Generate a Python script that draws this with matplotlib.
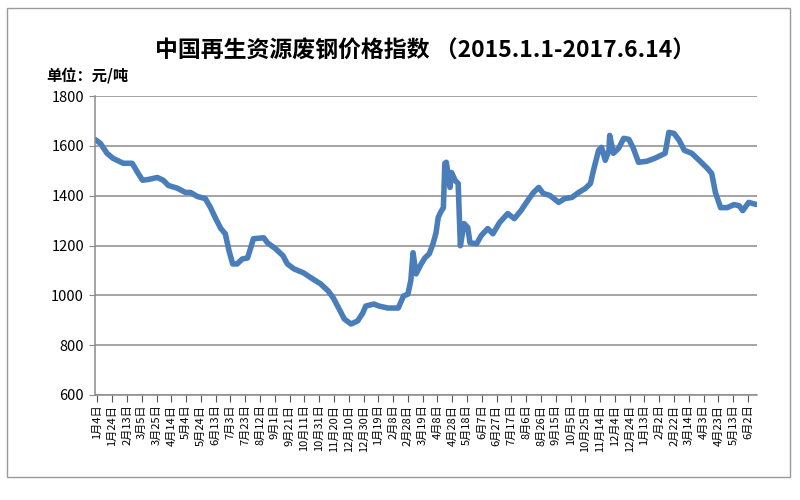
import pandas as pd
import matplotlib
matplotlib.use("Agg")
import matplotlib.pyplot as plt
from matplotlib.patches import Rectangle

plt.rcParams['font.family'] = ['Noto Sans CJK SC', 'DejaVu Sans']

title = "中国再生资源废钢价格指数 （2015.1.1-2017.6.14）"
unit_label = "单位：元/吨"
start_date = "2015-01-01"

# days since 2015-01-01
day_offsets = [0, 7, 16, 24, 38, 50, 54, 58, 64, 72, 84, 92, 99, 111, 122, 129,
               138, 149, 156, 163, 170, 176, 181, 186, 192, 199, 206, 210, 214,
               228, 233, 244, 254, 260, 269, 282, 292, 305, 315, 322, 330, 337,
               346, 355, 362, 366, 377, 384, 396, 410, 417, 423, 427, 430, 434,
               441, 446, 452, 457, 461, 464, 467, 471, 473, 475, 480, 482, 487,
               491, 494, 499, 504, 507, 516, 522, 531, 538, 547, 558, 567, 576,
               585, 593, 600, 606, 615, 627, 635, 645, 654, 663, 670, 674, 681,
               685, 690, 695, 696, 701, 708, 715, 722, 728, 735, 746, 757, 771,
               776, 783, 790, 797, 807, 817, 828, 834, 839, 846, 855, 864, 871,
               876, 884, 890, 894]
index_values = [1625, 1610, 1570, 1550, 1530, 1530, 1510, 1490, 1462, 1465, 1473,
                1462, 1441, 1430, 1413, 1413, 1397, 1388, 1352, 1308, 1268, 1247,
                1179, 1126, 1126, 1146, 1150, 1187, 1227, 1231, 1211, 1187, 1159,
                1126, 1106, 1090, 1070, 1046, 1018, 990, 945, 905, 885, 897, 929,
                957, 965, 957, 949, 949, 997, 1005, 1060, 1171, 1086, 1126, 1150,
                1167, 1207, 1250, 1312, 1332, 1352, 1530, 1534, 1433, 1493, 1461,
                1449, 1199, 1288, 1272, 1211, 1207, 1239, 1268, 1247, 1292, 1328,
                1308, 1340, 1380, 1413, 1433, 1409, 1401, 1373, 1388, 1393, 1413,
                1429, 1449, 1501, 1582, 1594, 1542, 1582, 1642, 1570, 1590, 1630,
                1626, 1590, 1534, 1538, 1550, 1570, 1654, 1650, 1622, 1582, 1570,
                1542, 1510, 1489, 1413, 1352, 1352, 1364, 1360, 1340, 1373, 1368,
                1365]

tick_dates = pd.date_range("2015-01-04", "2017-06-14", freq="20D")
tick_labels = [f"{d.month}月{d.day}日" for d in tick_dates]

dates = pd.Timestamp(start_date) + pd.to_timedelta(day_offsets, unit="D")

fig = plt.figure(figsize=(8, 5), dpi=100)
ax = fig.add_axes([0.119, 0.21, 0.827, 0.598])

ax.plot(dates, index_values, color="#4a7ebb", linewidth=4.0,
        solid_joinstyle="round", solid_capstyle="round")

ax.set_ylim(600, 1800)
ax.set_yticks(range(600, 1801, 200))
ax.set_xlim(pd.Timestamp(start_date), pd.Timestamp("2017-06-14"))
ax.set_xticks(tick_dates)
ax.set_xticklabels(tick_labels, rotation=90, fontsize=8)

ax.yaxis.grid(True, color="#8c8c8c", linewidth=1.1)
ax.set_axisbelow(True)
for side in ["top", "right"]:
    ax.spines[side].set_visible(False)
for side in ["left", "bottom"]:
    ax.spines[side].set_color("#8c8c8c")
    ax.spines[side].set_linewidth(1.1)
ax.tick_params(axis="y", labelsize=10.5, length=4, color="#8c8c8c", pad=4)
ax.tick_params(axis="x", length=5, color="#555555", pad=2)

fig.text(0.531, 0.897, title, ha="center", va="center", fontsize=16.5, fontweight="bold")
fig.text(0.058, 0.848, unit_label, ha="left", va="center", fontsize=11, fontweight="bold")

fig.patches.append(Rectangle((0.009, 0.046), 0.979, 0.938, transform=fig.transFigure,
                             fill=False, edgecolor="#9a9a9a", linewidth=1))

fig.savefig("out.png", dpi=100)
